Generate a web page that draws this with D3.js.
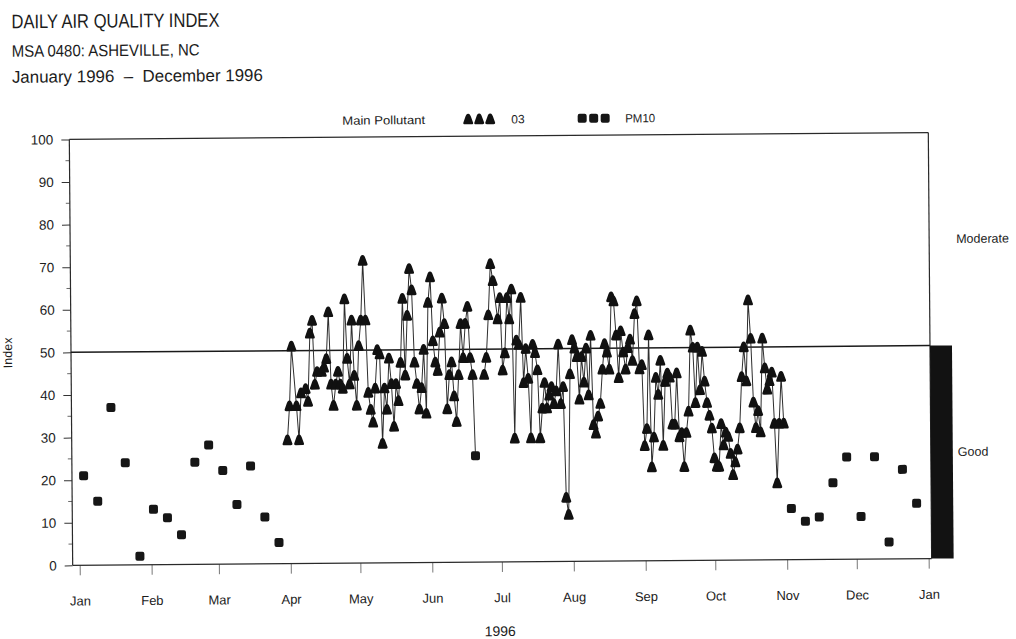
<!DOCTYPE html>
<html>
<head>
<meta charset="utf-8">
<script src="https://cdn.jsdelivr.net/npm/d3@7"></script>
<style>
  html, body { margin: 0; padding: 0; background: #fff; }
  svg { display: block; font-family: "Liberation Sans", "DejaVu Sans", sans-serif; }
</style>
</head>
<body>
<svg id="chart" width="1016" height="639"></svg>
<script>
// ---- data -------------------------------------------------------------
// Day numbers count from Jan 1 1996 (day 0).
const monthLabels = ["Jan","Feb","Mar","Apr","May","Jun","Jul","Aug","Sep","Oct","Nov","Dec","Jan"];
const yTicks = [0,10,20,30,40,50,60,70,80,90,100];

// PM10 was the main pollutant on these days
const pm10Days = [2,8,14,20,26,32,38,44,50,56,62,68,74,80,86,
                  171,
                  307,313,319,325,331,337,343,349,355,361];
const pm10Index = [21,15,37,24,2,13,11,7,24,28,22,14,23,11,5,
                   25,
                   12,9,10,18,24,10,24,4,21,13];

// Ozone was the main pollutant on these days
const o3Days = [90,91,92,94,95,96,98,99,100,101,102,103,105,106,107,108,109,110,111,112,
  113,114,115,116,117,118,119,120,121,122,123,124,125,126,127,128,129,130,131,132,
  133,134,135,136,137,138,139,140,141,142,143,144,145,146,147,148,149,150,151,152,
  153,154,155,156,157,158,159,160,161,162,163,164,165,166,167,168,169,170,
  175,176,177,178,179,181,182,183,184,185,186,187,188,189,190,191,192,193,194,195,
  196,197,198,199,200,201,202,203,204,205,206,207,208,209,210,211,212,213,214,215,
  216,217,218,219,220,221,222,223,224,225,226,227,228,229,230,231,232,233,234,235,
  236,237,238,239,240,241,242,243,244,245,246,247,248,249,250,251,252,253,254,255,
  256,257,258,259,260,261,262,263,264,265,266,267,268,269,270,271,272,273,274,275,
  276,277,278,279,280,281,282,283,284,285,286,287,288,289,290,291,292,293,294,295,
  296,297,298,299,300,301,302,303,304];
const o3Index = [29,37,51,37,29,40,41,38,54,57,42,45,45,46,48,59,42,37,42,45,
  42,41,62,48,42,57,44,37,51,57,71,57,40,36,33,41,50,49,28,41,
  36,48,42,32,42,38,47,62,44,58,69,64,47,42,36,41,50,35,61,67,
  52,47,45,54,62,56,36,44,47,39,33,44,56,48,56,60,48,44,
  44,48,58,70,66,57,62,45,49,62,57,64,29,52,51,62,42,50,43,29,
  51,49,45,29,36,42,36,39,41,37,40,51,37,41,15,11,44,52,50,48,
  38,48,42,50,39,53,32,30,34,37,45,51,49,45,62,61,53,43,54,49,
  45,50,52,47,58,61,45,46,27,31,53,22,29,43,39,47,27,42,44,43,
  32,32,44,29,30,22,30,35,54,50,37,50,40,49,42,37,34,31,24,22,
  22,32,27,30,29,25,20,23,26,31,43,50,42,61,52,37,31,35,30,52,
  45,40,42,44,32,18,32,43,32];

const categoryLabels = [{ text: "Moderate", lo: 50, hi: 100 }, { text: "Good", lo: 0, hi: 50 }];

// ---- layout -----------------------------------------------------------
const svg = d3.select("#chart");
const ink = "#1c1c1c";
const plotLeft = 71, plotRight = 930, plotTop = 136, plotBottom = 562;
const day0 = new Date(1996, 0, 1);
const toDate = d => d3.timeDay.offset(day0, d);

const x = d3.scaleTime()
  .domain([day0, new Date(1997, 0, 1)])
  .range([78, 927]);
const y = d3.scaleLinear().domain([0, 100]).range([plotBottom, plotTop]);

// the whole page sits very slightly tilted, as on a scanned sheet
const g = svg.append("g").attr("transform", "rotate(-0.45 500 350)");

// ---- header -----------------------------------------------------------
g.append("text").attr("x", 14).attr("y", 24.5)
  .attr("font-size", 19.5).attr("fill", ink)
  .attr("textLength", 208).attr("lengthAdjust", "spacingAndGlyphs")
  .text("DAILY AIR QUALITY INDEX");
g.append("text").attr("x", 14).attr("y", 53)
  .attr("font-size", 16.5).attr("fill", ink)
  .attr("textLength", 188).attr("lengthAdjust", "spacingAndGlyphs")
  .text("MSA 0480: ASHEVILLE, NC");
g.append("text").attr("x", 14).attr("y", 79)
  .attr("font-size", 17).attr("fill", ink)
  .attr("textLength", 251).attr("lengthAdjust", "spacingAndGlyphs")
  .attr("xml:space", "preserve")
  .text("January 1996  \u2013  December 1996");

// ---- marker shapes ----------------------------------------------------
const o3Shape = "M0,-5.6 C1.6,-5.6 2.3,-4 2.7,-2.7 L4.9,3.5 C5.1,4.6 4.5,5.1 3.4,5.1 L-3.4,5.1 C-4.5,5.1 -5.1,4.6 -4.9,3.5 L-2.7,-2.7 C-2.3,-4 -1.6,-5.6 0,-5.6 Z";
function drawO3(sel) {
  sel.append("path").attr("d", o3Shape).attr("fill", "#111");
}
function drawPM10(sel) {
  sel.append("rect").attr("x", -4.5).attr("y", -4.5).attr("width", 9).attr("height", 9)
    .attr("rx", 2).attr("fill", "#161616");
}

// ---- legend -----------------------------------------------------------
const legendY = 119;
g.append("text").attr("x", 344).attr("y", legendY + 4.5)
  .attr("font-size", 12).attr("fill", ink)
  .attr("textLength", 83).attr("lengthAdjust", "spacingAndGlyphs")
  .text("Main Pollutant");
[470, 481, 492].forEach(cx => g.append("g").attr("transform", `translate(${cx},${legendY})`).call(drawO3));
g.append("text").attr("x", 513).attr("y", legendY + 4.5)
  .attr("font-size", 12).attr("fill", ink).text("03");
[584, 595.5, 607].forEach(cx => g.append("g").attr("transform", `translate(${cx},${legendY})`).call(drawPM10));
g.append("text").attr("x", 627).attr("y", legendY + 4.5)
  .attr("font-size", 12).attr("fill", ink)
  .attr("textLength", 30).attr("lengthAdjust", "spacingAndGlyphs")
  .text("PM10");

// ---- axes -------------------------------------------------------------
const yAxis = g.append("g").attr("transform", `translate(${plotLeft},0)`)
  .call(d3.axisLeft(y).tickValues(yTicks).tickSize(8).tickPadding(8).tickFormat(d3.format("d")));
yAxis.select(".domain").remove();
yAxis.selectAll(".tick line").attr("stroke", "#333");
yAxis.selectAll(".tick text").attr("font-size", 13.5).attr("fill", ink)
  .attr("font-family", "Liberation Sans, sans-serif");
// minor ticks at the fives
g.append("g").selectAll("line")
  .data(d3.range(5, 100, 10))
  .join("line")
  .attr("x1", plotLeft - 4).attr("x2", plotLeft)
  .attr("y1", d => y(d)).attr("y2", d => y(d))
  .attr("stroke", "#444").attr("stroke-width", 0.8);

const monthTicks = d3.timeMonth.range(day0, new Date(1997, 0, 2));
const xAxis = g.append("g").attr("transform", `translate(0,${plotBottom})`)
  .call(d3.axisBottom(x).tickValues(monthTicks).tickSize(10).tickPadding(21)
    .tickFormat((d, i) => monthLabels[i]));
xAxis.select(".domain").remove();
xAxis.selectAll(".tick line").attr("stroke", "#555").attr("stroke-width", 0.8);
xAxis.selectAll(".tick text").attr("font-size", 13).attr("fill", ink);

g.append("text").attr("x", 498).attr("y", 636)
  .attr("text-anchor", "middle").attr("font-size", 14).attr("fill", ink)
  .text("1996");
g.append("text")
  .attr("transform", `translate(12,${y(50)}) rotate(-90)`)
  .attr("text-anchor", "middle").attr("font-size", 12.5).attr("fill", ink)
  .text("Index");

// ---- frame, 50 line and category bar ---------------------------------
const frame = g.append("g").attr("fill", "none").attr("stroke", "#2a2a2a").attr("stroke-width", 1.2);
frame.append("line").attr("x1", plotLeft).attr("x2", plotLeft).attr("y1", y(100)).attr("y2", y(0));
frame.append("line").attr("x1", plotLeft).attr("x2", plotRight).attr("y1", y(0)).attr("y2", y(0));
frame.append("line").attr("x1", plotLeft).attr("x2", plotRight).attr("y1", y(100)).attr("y2", y(100));
frame.append("line").attr("x1", plotRight).attr("x2", plotRight).attr("y1", y(100)).attr("y2", y(0));
g.append("line").attr("x1", plotLeft).attr("x2", plotRight).attr("y1", y(50)).attr("y2", y(50))
  .attr("stroke", "#1a1a1a").attr("stroke-width", 1.5);

g.append("rect").attr("x", plotRight).attr("width", 22)
  .attr("y", y(50)).attr("height", y(0) - y(50))
  .attr("fill", "#121212");

categoryLabels.forEach(c => {
  g.append("text").attr("x", 957).attr("y", y((c.lo + c.hi) / 2) + 4)
    .attr("font-size", 12.5).attr("fill", ink).text(c.text);
});

// ---- series -----------------------------------------------------------
const points = [
  ...pm10Days.map((d, i) => ({ day: d, value: pm10Index[i], kind: "PM10" })),
  ...o3Days.map((d, i) => ({ day: d, value: o3Index[i], kind: "O3" }))
].sort((a, b) => a.day - b.day);

// consecutive daily readings are joined; sampling gaps break the line
const runs = [];
points.forEach((p, i) => {
  if (i === 0 || p.day - points[i - 1].day > 2) runs.push([]);
  runs[runs.length - 1].push(p);
});
const line = d3.line().x(p => x(toDate(p.day))).y(p => y(p.value));
g.append("g").selectAll("path")
  .data(runs.filter(r => r.length > 1))
  .join("path")
  .attr("d", line)
  .attr("fill", "none").attr("stroke", "#2e2e2e").attr("stroke-width", 1);

const marks = g.append("g").selectAll("g")
  .data(points)
  .join("g")
  .attr("transform", p => `translate(${x(toDate(p.day))},${y(p.value)})`);
marks.filter(p => p.kind === "O3").call(drawO3);
marks.filter(p => p.kind === "PM10").call(drawPM10);
</script>
</body>
</html>
